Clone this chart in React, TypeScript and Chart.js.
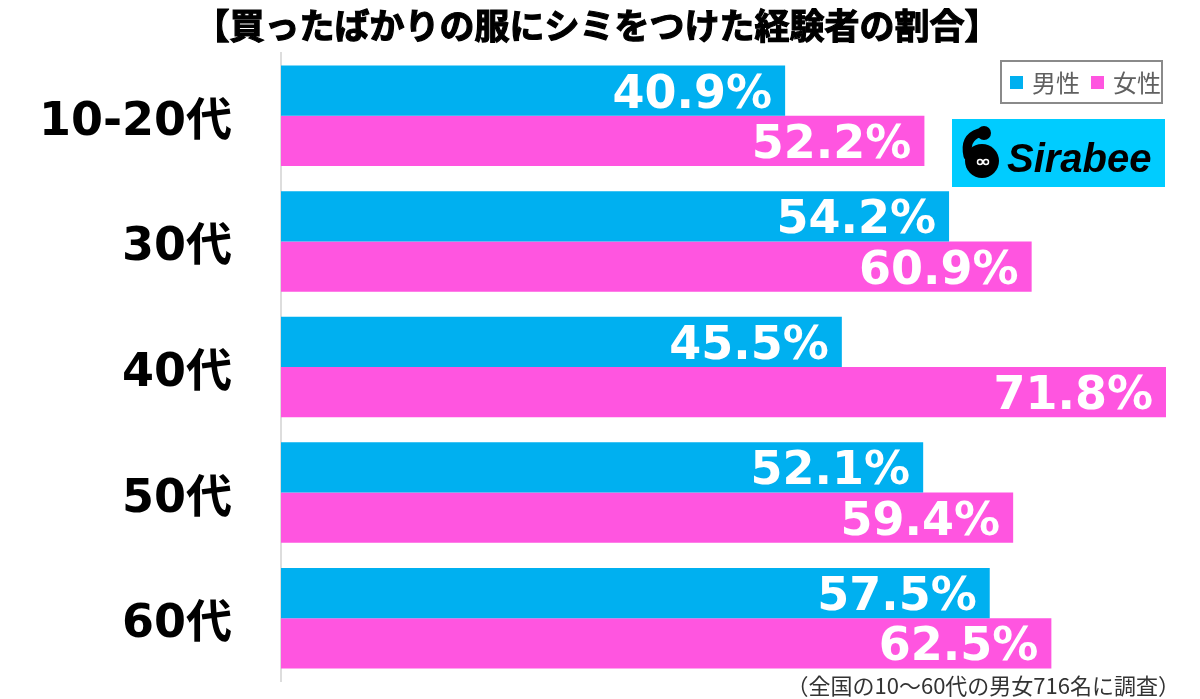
import React, { useEffect, useRef } from "react";
import { Chart, registerables } from "chart.js";

Chart.register(...registerables);

const TITLE = "【買ったばかりの服にシミをつけた経験者の割合】";
const FOOTNOTE = "（全国の10～60代の男女716名に調査）";
const categories = ["10-20代", "30代", "40代", "50代", "60代"];
const seriesNames = ["男性", "女性"];
const maleValues = [40.9, 54.2, 45.5, 52.1, 57.5];
const femaleValues = [52.2, 60.9, 71.8, 59.4, 62.5];
const seriesColors = ["#00B0F0", "#FF55E0"];
const X_MAX = 71.8;

const NUM_FONT = "bold 46px 'DejaVu Sans', 'Noto Sans CJK JP', sans-serif";
const CJK = "'Noto Sans CJK JP', sans-serif";

const decorPlugin = {
  id: "decor",
  afterDatasetsDraw(chart: any) {
    const ctx = chart.ctx as CanvasRenderingContext2D;
    chart.data.datasets.forEach((ds: any, di: number) => {
      const meta = chart.getDatasetMeta(di);
      meta.data.forEach((bar: any, i: number) => {
        const v = ds.data[i];
        ctx.save();
        ctx.font = NUM_FONT;
        ctx.fillStyle = "#ffffff";
        ctx.textAlign = "right";
        ctx.textBaseline = "alphabetic";
        ctx.fillText(v.toFixed(1) + "%", bar.x - 13, bar.y + 17);
        ctx.restore();
      });
    });
    const yScale = chart.scales.y;
    categories.forEach((c, i) => {
      const y = yScale.getPixelForValue(i);
      ctx.save();
      ctx.font = "bold 46px 'DejaVu Sans', 'Noto Sans CJK JP', sans-serif";
      ctx.fillStyle = "#000000";
      ctx.textAlign = "right";
      ctx.textBaseline = "alphabetic";
      ctx.fillText(c, 232, y + 19);
      ctx.restore();
    });
  },
  afterDraw(chart: any) {
    const ctx = chart.ctx as CanvasRenderingContext2D;
    // title
    ctx.save();
    ctx.font = "bold 35px " + CJK;
    ctx.fillStyle = "#000";
    ctx.strokeStyle = "#000";
    ctx.lineWidth = 1.2;
    ctx.textAlign = "center";
    ctx.textBaseline = "middle";
    ctx.fillText(TITLE, 597, 26);
    ctx.strokeText(TITLE, 597, 26);
    ctx.restore();

    // legend
    ctx.save();
    ctx.fillStyle = "#ffffff";
    ctx.fillRect(1001, 61, 161, 42);
    ctx.strokeStyle = "#8a8a8a";
    ctx.lineWidth = 2;
    ctx.strokeRect(1001, 61, 161, 42);
    ctx.font = "24px " + CJK;
    ctx.textBaseline = "middle";
    ctx.textAlign = "left";
    const lx = [1010, 1091];
    seriesNames.forEach((n, i) => {
      ctx.fillStyle = seriesColors[i];
      ctx.fillRect(lx[i], 76, 13, 13);
      ctx.fillStyle = "#606060";
      ctx.fillText(n, lx[i] + 22, 83);
    });
    ctx.restore();

    // Sirabee logo
    ctx.save();
    ctx.fillStyle = "#00CCFF";
    ctx.fillRect(952, 119, 213, 68);
    ctx.fillStyle = "#000";
    ctx.strokeStyle = "#000";
    ctx.beginPath();
    ctx.arc(982, 161, 17, 0, Math.PI * 2);
    ctx.fill();
    ctx.lineWidth = 9;
    ctx.lineCap = "round";
    ctx.beginPath();
    ctx.moveTo(968, 156);
    ctx.quadraticCurveTo(964, 138, 979, 133);
    ctx.stroke();
    ctx.beginPath();
    ctx.arc(984, 133, 7, 0, Math.PI * 2);
    ctx.fill();
    ctx.strokeStyle = "#fff";
    ctx.lineWidth = 1.5;
    ctx.beginPath();
    ctx.arc(980, 162, 2.5, 0, Math.PI * 2);
    ctx.stroke();
    ctx.beginPath();
    ctx.arc(986, 162, 2.5, 0, Math.PI * 2);
    ctx.stroke();
    ctx.fillStyle = "#000";
    ctx.font = "italic bold 40px 'Liberation Sans', sans-serif";
    ctx.textAlign = "left";
    ctx.textBaseline = "alphabetic";
    ctx.fillText("Sirabee", 1007, 172);
    ctx.restore();

    // footnote
    ctx.save();
    ctx.font = "22px " + CJK;
    ctx.fillStyle = "#333333";
    ctx.textAlign = "right";
    ctx.textBaseline = "middle";
    ctx.fillText(FOOTNOTE, 1180, 686);
    ctx.restore();
  },
};

export default function App() {
  const ref = useRef<HTMLCanvasElement | null>(null);
  useEffect(() => {
    document.body.style.margin = "0";
    const canvas = ref.current;
    if (!canvas) return;
    const chart = new Chart(canvas, {
      type: "bar",
      data: {
        labels: categories,
        datasets: [
          {
            label: seriesNames[0],
            data: maleValues,
            backgroundColor: seriesColors[0],
            barPercentage: 1.0,
            categoryPercentage: 0.8,
          },
          {
            label: seriesNames[1],
            data: femaleValues,
            backgroundColor: seriesColors[1],
            barPercentage: 1.0,
            categoryPercentage: 0.8,
          },
        ],
      },
      options: {
        indexAxis: "y",
        responsive: false,
        animation: false,
        events: [],
        layout: { padding: { top: 53, bottom: 18, right: 34, left: 0 } },
        scales: {
          x: { display: false, min: 0, max: X_MAX },
          y: {
            display: true,
            grid: { display: false, drawTicks: false },
            border: { display: true, color: "#dddddd", width: 2 },
            ticks: { display: false },
            afterFit: (s: any) => {
              s.width = 281;
            },
          },
        },
        plugins: {
          legend: { display: false },
          tooltip: { enabled: false },
          title: { display: false },
        },
      } as any,
      plugins: [decorPlugin],
    });
    return () => chart.destroy();
  }, []);
  return (
    <div style={{ width: 1200, height: 699, background: "#fff" }}>
      <canvas ref={ref} width={1200} height={699} style={{ display: "block" }} />
    </div>
  );
}
